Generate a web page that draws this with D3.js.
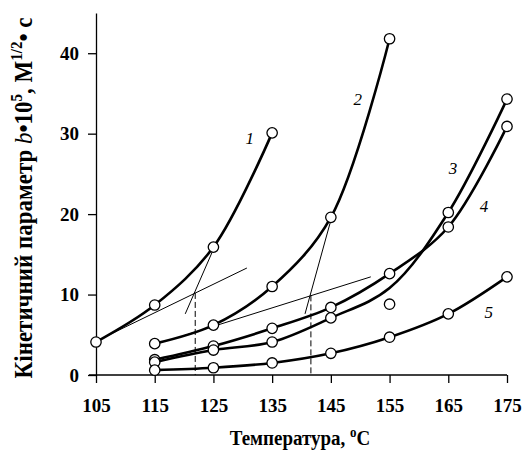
<!DOCTYPE html>
<html>
<head>
<meta charset="utf-8">
<script src="https://cdn.jsdelivr.net/npm/d3@7"></script>
<style>
  body { margin: 0; background: #fff; }
  text { font-family: 'Liberation Serif', 'Times New Roman', serif; }
</style>
</head>
<body>
<div id="graph"></div>
<script>
// temperatures, °C
var temps = [105, 115, 125, 135, 145, 155, 165, 175]
var xTicks = [105, 115, 125, 135, 145, 155, 165, 175]
var yTicks = [0, 10, 20, 30, 40]

// b*10^5 for each curve (null = no point at that temperature)
var curve1 = [4.1, 8.7, 15.9, 30.1, null, null, null, null]
var curve2 = [null, 3.9, 6.2, 11.0, 19.6, 41.8, null, null]
var curve3 = [null, 1.9, 3.6, 5.8, 8.4, 12.6, 18.4, 30.9]
var curve4 = [null, 1.6, 3.1, 4.1, 7.1, 10.8, 20.2, 34.3]
var curve5 = [null, 0.6, 0.9, 1.5, 2.7, 4.7, 7.6, 12.2]
// curve 4 has no marker at 155, the measured point sits off the line
var curve4NoMark = [155]
var strayPoints = [[155, 8.8]]

// tangent construction lines [t1, b1, t2, b2]
var tangents = [
  [105, 4.2, 130.7, 13.3],
  [120.2, 7.6, 125.1, 15.8],
  [120, 4.9, 151.8, 12.2],
  [140.6, 7.6, 145.1, 19.5],
]
// dashed drops [t, b]
var drops = [[121.9, 10.2], [141.6, 9.9]]

var curveLabels = [
  [131.2, 29.5, '1'],
  [149.6, 34.3, '2'],
  [165.8, 25.7, '3'],
  [171.1, 21.0, '4'],
  [171.9, 7.8, '5'],
]

var svg = d3.select('#graph').append('svg')
  .attr('width', 525)
  .attr('height', 450)

var x = d3.scaleLinear().domain([105, 175]).range([96, 507])
var y = d3.scaleLinear().domain([0, 45]).range([375, 13])

// axes
var xAxis = svg.append('g')
  .attr('transform', 'translate(0,' + y(0) + ')')
  .call(d3.axisBottom(x).tickValues(xTicks).tickSize(8).tickSizeOuter(0))
xAxis.select('.domain').remove()
xAxis.append('line')
  .attr('x1', x(105) - 7).attr('x2', x(175))
  .attr('stroke', '#000').attr('stroke-width', 1.3)
xAxis.selectAll('.tick line').attr('stroke-width', 1.3)
xAxis.selectAll('.tick text')
  .attr('y', 37).attr('dy', null)
  .style('font-size', '19px').style('font-weight', 'bold').attr('fill', '#000')

var yAxis = svg.append('g')
  .attr('transform', 'translate(' + x(105) + ',0)')
  .call(d3.axisLeft(y).tickValues(yTicks).tickSize(8).tickPadding(9).tickSizeOuter(0))
yAxis.select('.domain').attr('stroke-width', 1.3)
yAxis.selectAll('.tick line').attr('stroke-width', 1.3)
yAxis.selectAll('.tick text')
  .style('font-size', '19px').style('font-weight', 'bold').attr('fill', '#000')

// axis titles (the scan is a bit stretched, hence the scale)
svg.append('text')
  .attr('transform', 'translate(300,445) scale(1,1.15)')
  .attr('text-anchor', 'middle')
  .style('font-size', '19px').style('font-weight', 'bold')
  .html('Температура, <tspan dy="-7" font-size="13px">o</tspan><tspan dy="7">C</tspan>')

svg.append('text')
  .attr('transform', 'translate(32,198) rotate(-90) scale(1,1.12)')
  .attr('text-anchor', 'middle')
  .style('font-size', '23px').style('font-weight', 'bold')
  .html('Кінетичний параметр <tspan font-style="italic" font-weight="normal">b</tspan>•10' +
    '<tspan dy="-9" font-size="15px">5</tspan><tspan dy="9">, М</tspan>' +
    '<tspan dy="-9" font-size="15px">1/2</tspan><tspan dy="9">• с</tspan>')

// thin tangents and dashed drops
svg.selectAll('.tangent').data(tangents).enter().append('line')
  .attr('class', 'tangent')
  .attr('x1', d => x(d[0])).attr('y1', d => y(d[1]))
  .attr('x2', d => x(d[2])).attr('y2', d => y(d[3]))
  .attr('stroke', '#000').attr('stroke-width', 1)

svg.selectAll('.drop').data(drops).enter().append('line')
  .attr('class', 'drop')
  .attr('x1', d => x(d[0])).attr('y1', d => y(d[1]))
  .attr('x2', d => x(d[0])).attr('y2', y(0))
  .attr('stroke', '#000').attr('stroke-width', 1)
  .attr('stroke-dasharray', '6,3')

// curves
var series = [curve1, curve2, curve3, curve4, curve5].map(function(vals, i) {
  return temps.map((t, j) => ({ t: t, v: vals[j], mark: !(i == 3 && curve4NoMark.includes(t)) }))
    .filter(d => d.v != null)
})

var line = d3.line()
  .x(d => x(d.t))
  .y(d => y(d.v))
  .curve(d3.curveCatmullRom.alpha(0.5))

svg.selectAll('.curve').data(series).enter().append('path')
  .attr('class', 'curve')
  .attr('d', line)
  .attr('fill', 'none')
  .attr('stroke', '#000')
  .attr('stroke-width', 2.6)

var marks = series.flat().filter(d => d.mark).concat(strayPoints.map(p => ({ t: p[0], v: p[1] })))
svg.selectAll('.mark').data(marks).enter().append('circle')
  .attr('class', 'mark')
  .attr('cx', d => x(d.t)).attr('cy', d => y(d.v))
  .attr('r', 5.2)
  .attr('fill', '#fff')
  .attr('stroke', '#000')
  .attr('stroke-width', 1.3)

svg.selectAll('.clabel').data(curveLabels).enter().append('text')
  .attr('class', 'clabel')
  .attr('x', d => x(d[0])).attr('y', d => y(d[1]))
  .attr('dy', '0.35em')
  .attr('text-anchor', 'middle')
  .style('font-size', '17px').style('font-style', 'italic')
  .text(d => d[2])
</script>
</body>
</html>
